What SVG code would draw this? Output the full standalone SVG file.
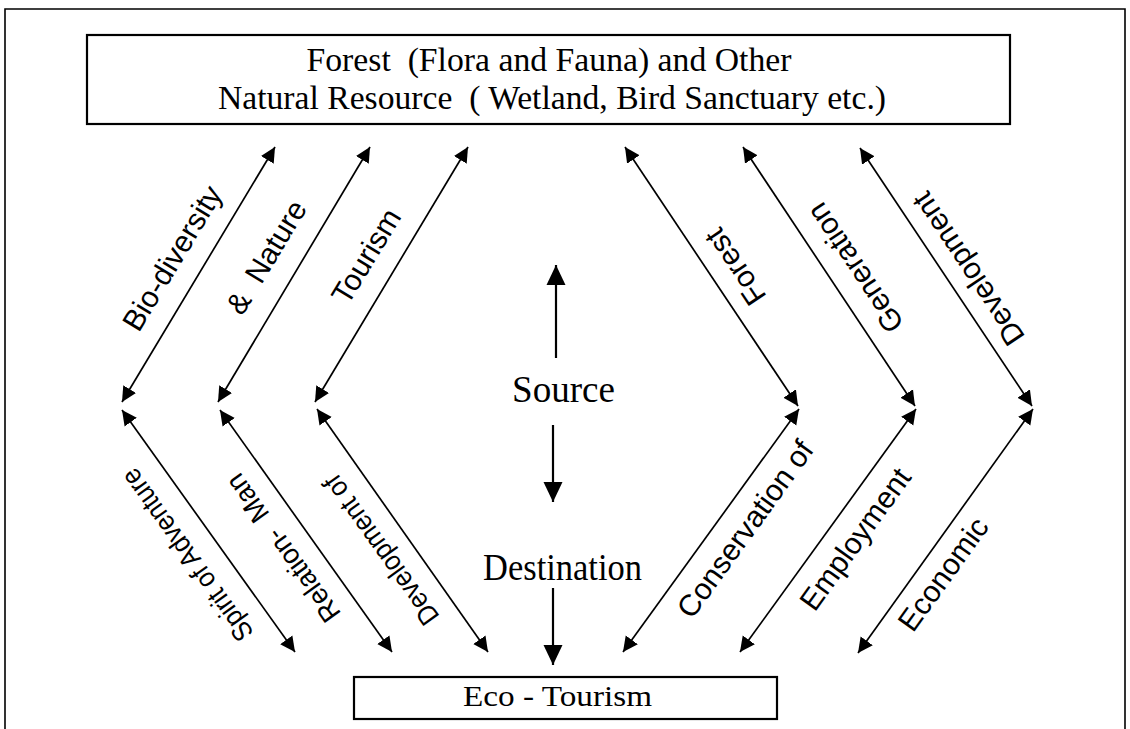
<svg xmlns="http://www.w3.org/2000/svg" width="1130" height="729" viewBox="0 0 1130 729">
  <style>
    .frame { fill: none; stroke: #000; stroke-width: 1.6; }
    .box { fill: #fff; stroke: #000; stroke-width: 2.2; }
    .serif { font-family: "Liberation Serif", "Times New Roman", serif; fill: #000; }
    .sans { font-family: "Liberation Sans", Arial, sans-serif; font-size: 30px; fill: #000; }
    .link { stroke: #000; stroke-width: 1.7; fill: none; marker-start: url(#head); marker-end: url(#head); }
    .axis { stroke: #000; stroke-width: 2.2; fill: none; marker-end: url(#bighead); }
  </style>
  <defs>
    <marker id="head" viewBox="0 0 15 16" refX="15" refY="8" markerWidth="15" markerHeight="16" markerUnits="userSpaceOnUse" orient="auto-start-reverse">
      <path d="M0,0.5 L15,8 L0,15.5 Z" fill="#000"/>
    </marker>
    <marker id="bighead" viewBox="0 0 20 20" refX="20" refY="10" markerWidth="20" markerHeight="20" markerUnits="userSpaceOnUse" orient="auto">
      <path d="M0,0.5 L20,10 L0,19.5 Z" fill="#000"/>
    </marker>
  </defs>

  <rect width="1130" height="729" fill="#fff"/>

  <!-- outer frame, open at the bottom -->
  <path class="frame" d="M5,729 V9 H1125 V729"/>

  <g id="resources">
    <rect class="box" x="87" y="35" width="923" height="89"/>
    <text class="serif" font-size="33" x="549" y="71" text-anchor="middle" textLength="485" lengthAdjust="spacingAndGlyphs" xml:space="preserve">Forest  (Flora and Fauna) and Other</text>
    <text class="serif" font-size="33" x="552" y="109" text-anchor="middle" textLength="668" lengthAdjust="spacingAndGlyphs" xml:space="preserve">Natural Resource  ( Wetland, Bird Sanctuary etc.)</text>
  </g>

  <g id="ecotourism">
    <rect class="box" x="354" y="677" width="423" height="42"/>
    <text class="serif" font-size="30" x="557.5" y="706" text-anchor="middle" textLength="189" lengthAdjust="spacingAndGlyphs">Eco - Tourism</text>
  </g>

  <g id="source">
    <text class="serif" font-size="37" x="563.5" y="402" text-anchor="middle" textLength="103" lengthAdjust="spacingAndGlyphs">Source</text>
  </g>

  <g id="destination">
    <text class="serif" font-size="37" x="562.5" y="580" text-anchor="middle" textLength="159" lengthAdjust="spacingAndGlyphs">Destination</text>
  </g>

  <g id="connectors">
    <!-- upper left: resources to the left middle points -->
    <line class="link" x1="275" y1="147" x2="122" y2="402"/>
    <line class="link" x1="370" y1="147" x2="218" y2="402"/>
    <line class="link" x1="468" y1="147" x2="315" y2="402"/>
    <!-- lower left: middle points to eco-tourism -->
    <line class="link" x1="122" y1="410" x2="295" y2="652"/>
    <line class="link" x1="220" y1="410" x2="392" y2="652"/>
    <line class="link" x1="317" y1="409" x2="488" y2="652"/>
    <!-- upper right -->
    <line class="link" x1="625" y1="147" x2="798" y2="406"/>
    <line class="link" x1="743" y1="147" x2="915" y2="406"/>
    <line class="link" x1="860" y1="148" x2="1032" y2="406"/>
    <!-- lower right -->
    <line class="link" x1="799" y1="409" x2="623" y2="652"/>
    <line class="link" x1="916" y1="409" x2="740" y2="652"/>
    <line class="link" x1="1033" y1="409" x2="858" y2="653"/>
    <!-- central source / destination axis -->
    <line class="axis" x1="556" y1="358" x2="556" y2="265"/>
    <line class="axis" x1="553" y1="425" x2="553" y2="502"/>
    <line class="axis" x1="553" y1="588" x2="553" y2="665"/>
  </g>

  <g id="labels" class="sans" text-anchor="middle" dominant-baseline="central">
    <text transform="translate(172,258) rotate(-58.8)">Bio-diversity</text>
    <text transform="translate(266,257) rotate(-58.8)" xml:space="preserve">&amp;  Nature</text>
    <text transform="translate(366,256) rotate(-58.8)">Tourism</text>

    <text transform="translate(735,267) rotate(-123.7)">Forest</text>
    <text transform="translate(855,268) rotate(-123.7)">Generation</text>
    <text transform="translate(968,269) rotate(-123.7)">Development</text>

    <text transform="translate(187,555) rotate(-125.6)" font-size="28" textLength="205" lengthAdjust="spacingAndGlyphs">Spirit of Adventure</text>
    <text transform="translate(283,548) rotate(-125.6)" font-size="28" textLength="175" lengthAdjust="spacingAndGlyphs" xml:space="preserve">Relation-  Man</text>
    <text transform="translate(381,550) rotate(-125.6)" font-size="28" textLength="177" lengthAdjust="spacingAndGlyphs">Development of</text>

    <text transform="translate(745,529) rotate(-54.2)">Conservation of</text>
    <text transform="translate(855,539) rotate(-54.2)">Employment</text>
    <text transform="translate(943,574) rotate(-54.2)">Economic</text>
  </g>
</svg>
